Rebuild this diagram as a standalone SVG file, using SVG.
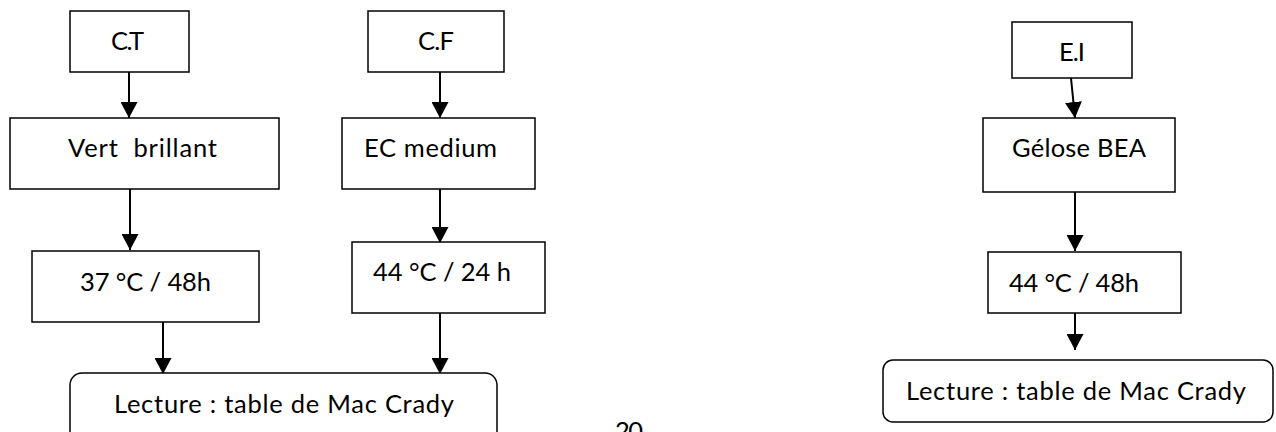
<svg xmlns="http://www.w3.org/2000/svg" width="1276" height="432" viewBox="0 0 1276 432">
<style>
.box{fill:#fff;stroke:#000;stroke-width:1.5}
.lbl{font-family:Lato,"Liberation Sans",sans-serif;font-size:25.5px;fill:#000;white-space:pre}
.arr{stroke:#000;stroke-width:2;fill:none;marker-end:url(#ah)}
</style>
<defs>
<marker id="ah" markerUnits="userSpaceOnUse" viewBox="0 0 16 17" refX="16" refY="8.5" markerWidth="16" markerHeight="17" orient="auto">
<path d="M0,0 L16,8.5 L0,17 z" fill="#000"/>
</marker>
</defs>
<rect x="0" y="0" width="1276" height="432" fill="#fff"/>
<g id="connectors">
<line class="arr" x1="129" y1="72" x2="129" y2="118"/>
<line class="arr" x1="130" y1="189" x2="130" y2="250"/>
<line class="arr" x1="163" y1="322" x2="163" y2="374"/>
<line class="arr" x1="440" y1="72" x2="440" y2="118"/>
<line class="arr" x1="440" y1="189" x2="440" y2="243"/>
<line class="arr" x1="440" y1="313" x2="440" y2="374"/>
<line class="arr" x1="1071" y1="78" x2="1075" y2="118"/>
<line class="arr" x1="1075" y1="192" x2="1075" y2="251"/>
<line class="arr" x1="1075" y1="313" x2="1075" y2="350"/>
</g>
<g id="ct"><rect class="box" x="70" y="11" width="119" height="61"/><text class="lbl" x="111" y="50" textLength="33">C.T</text></g>
<g id="vert"><rect class="box" x="10" y="118" width="269" height="71"/><text class="lbl" x="68" y="157" textLength="149">Vert  brillant</text></g>
<g id="t37"><rect class="box" x="32" y="251" width="227" height="71"/><text class="lbl" x="80" y="291" textLength="131">37 °C / 48h</text></g>
<g id="cf"><rect class="box" x="368" y="11" width="136" height="61"/><text class="lbl" x="418" y="50" textLength="36">C.F</text></g>
<g id="ec"><rect class="box" x="342" y="118" width="193" height="71"/><text class="lbl" x="364" y="157" textLength="133">EC medium</text></g>
<g id="t44a"><rect class="box" x="352" y="242" width="193" height="71"/><text class="lbl" x="373" y="281" textLength="138">44 °C / 24 h</text></g>
<g id="lect1"><rect class="box" x="70" y="373" width="427" height="80" rx="12"/><text class="lbl" x="114" y="413" textLength="340">Lecture : table de Mac Crady</text></g>
<g id="page"><text class="lbl" x="615" y="440" textLength="28">20</text></g>
<g id="ei"><rect class="box" x="1012" y="22" width="120" height="56"/><text class="lbl" x="1059" y="61" textLength="26">E.I</text></g>
<g id="gel"><rect class="box" x="983" y="118" width="192" height="74"/><text class="lbl" x="1012" y="157" textLength="134">Gélose BEA</text></g>
<g id="t44b"><rect class="box" x="988" y="252" width="193" height="61"/><text class="lbl" x="1009" y="292" textLength="130">44 °C / 48h</text></g>
<g id="lect2"><rect class="box" x="883" y="360" width="390" height="62" rx="10"/><text class="lbl" x="906" y="400" textLength="340">Lecture : table de Mac Crady</text></g>
</svg>
